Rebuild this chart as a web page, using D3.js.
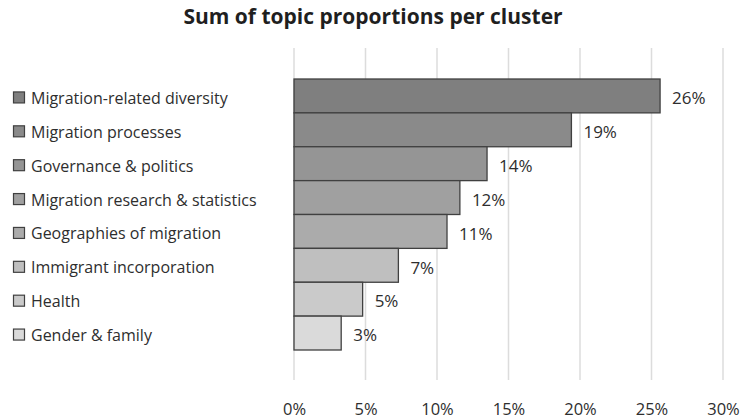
<html>
<head>
<script src="https://d3js.org/d3.v7.min.js"></script>
<style>
body { margin: 0; background: #fff; }
text { font-family: "Open Sans", sans-serif; fill: #2e2e2e; }
</style>
</head>
<body>
<svg width="741" height="419"></svg>
<script>
var clusters = ["Migration-related diversity", "Migration processes", "Governance & politics",
  "Migration research & statistics", "Geographies of migration", "Immigrant incorporation",
  "Health", "Gender & family"];
var proportions = [25.6, 19.4, 13.5, 11.6, 10.7, 7.3, 4.8, 3.3];
var barColors = ["#7f7f7f", "#8a8a8a", "#959595", "#a0a0a0", "#ababab", "#bfbfbf", "#cacaca", "#dadada"];
var xTicks = [0, 5, 10, 15, 20, 25, 30];

var svg = d3.select("svg");

var x = d3.scaleLinear().domain([0, 30]).range([294, 723]);
var y = d3.scaleBand().domain(clusters).range([79, 350]).padding(0);

// title
svg.append("text")
  .attr("x", 373).attr("y", 24)
  .style("text-anchor", "middle")
  .style("font-size", "21px")
  .style("font-weight", "bold")
  .style("fill", "#1f1f1f")
  .text("Sum of topic proportions per cluster");

// gridlines
svg.append("g").selectAll("line")
  .data(xTicks)
  .enter().append("line")
  .attr("x1", d => x(d)).attr("x2", d => x(d))
  .attr("y1", 48).attr("y2", 380)
  .style("stroke", "#dcdcdc")
  .style("stroke-width", 1.5);

// bottom tick labels
var xAxis = svg.append("g")
  .attr("transform", "translate(0,0)")
  .call(d3.axisBottom(x).tickValues(xTicks).tickFormat(d => d + "%").tickSize(0));
xAxis.select(".domain").remove();
xAxis.selectAll("text")
  .attr("y", 414.5)
  .attr("dy", 0)
  .style("font-size", "16.5px")
  .style("font-family", "'Open Sans', sans-serif")
  .style("fill", "#2e2e2e");

// bars
svg.append("g").selectAll("rect")
  .data(clusters)
  .enter().append("rect")
  .attr("x", x(0))
  .attr("y", d => y(d))
  .attr("width", (d, i) => x(proportions[i]) - x(0))
  .attr("height", y.bandwidth())
  .style("fill", (d, i) => barColors[i])
  .style("stroke", "#404040")
  .style("stroke-width", 1.3);

// value labels
svg.append("g").selectAll("text")
  .data(clusters)
  .enter().append("text")
  .attr("x", (d, i) => x(proportions[i]) + 12)
  .attr("y", d => y(d) + y.bandwidth() / 2 + 8.3)
  .style("font-size", "17px")
  .text((d, i) => Math.round(proportions[i]) + "%");

// legend
var legend = svg.append("g").selectAll("g")
  .data(clusters)
  .enter().append("g")
  .attr("transform", d => "translate(0," + (y(d) + y.bandwidth() / 2) + ")");

legend.append("rect")
  .attr("x", 13.5).attr("y", -4)
  .attr("width", 11).attr("height", 11)
  .style("fill", (d, i) => barColors[i])
  .style("stroke", "#404040")
  .style("stroke-width", 1.2);

legend.append("text")
  .attr("x", 31).attr("y", 8)
  .style("font-size", "16px")
  .text(d => d);
</script>
</body>
</html>
